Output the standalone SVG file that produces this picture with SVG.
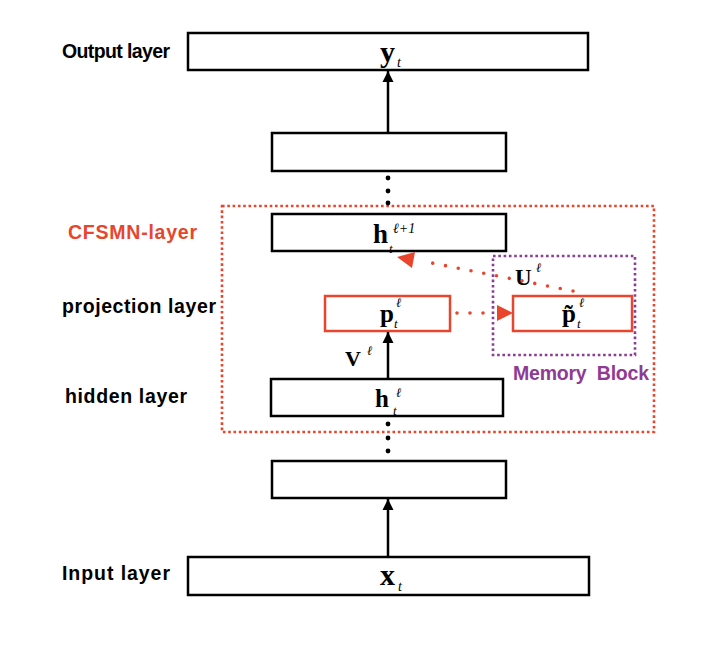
<svg xmlns="http://www.w3.org/2000/svg" width="726" height="663" viewBox="0 0 726 663">
<style>
.box{fill:#fff;stroke:#000;stroke-width:2.5}
.rbox{fill:#fff;stroke:#E8452C;stroke-width:2.5}
.lbl{font-family:"Liberation Sans",Arial,sans-serif;font-weight:bold;font-size:19.5px;fill:#000}
.m{font-family:"Liberation Serif","DejaVu Serif",serif;font-weight:bold;fill:#000}
.s{font-family:"Liberation Serif","DejaVu Serif",serif;font-style:italic;fill:#000}
.con{stroke:#000;stroke-width:2.5;fill:none}
.rdot{stroke:#E8452C;stroke-width:3.6;stroke-linecap:round;stroke-dasharray:0 13;fill:none}
</style>
<defs>
<marker id="ah" viewBox="0 0 10 10" refX="10" refY="5" markerWidth="4.4" markerHeight="5" orient="auto" markerUnits="strokeWidth"><path d="M0,0 L10,5 L0,10 Z" fill="#000"/></marker>
</defs>
<rect width="726" height="663" fill="#fff"/>

<g id="cfsmn-region">
<rect x="222" y="206" width="432" height="226" fill="none" stroke="#E8452C" stroke-width="2.6" stroke-dasharray="2.6 2.7"/>
<text x="68" y="239" class="lbl" style="fill:#E8452C" textLength="129">CFSMN-layer</text>
</g>

<g id="memory-block">
<rect x="493" y="256" width="142" height="99" fill="none" stroke="#8E3B95" stroke-width="2.6" stroke-dasharray="2.6 2.7"/>
<text x="513" y="380" class="lbl" style="fill:#8E3B95" textLength="136" xml:space="preserve">Memory  Block</text>
</g>

<g id="output-layer">
<rect class="box" x="188" y="33" width="400" height="37"/>
<text x="62" y="58" class="lbl" textLength="108">Output layer</text>
<text x="380" y="62" class="m" font-size="30">y</text>
<text x="397" y="67" class="s" font-size="14">t</text>
</g>

<g id="hidden-top">
<rect class="box" x="272" y="133" width="234" height="38"/>
</g>

<g id="h-next">
<rect class="box" x="272" y="214" width="234" height="37"/>
<text x="373" y="243" class="m" font-size="27">h</text>
<text x="393" y="233" class="s" font-size="14">ℓ+1</text>
<text x="389" y="253" class="s" font-size="13">t</text>
</g>

<g id="projection">
<rect class="rbox" x="325" y="296" width="125" height="35"/>
<text x="380" y="322" class="m" font-size="25">p</text>
<text x="396" y="307" class="s" font-size="13">ℓ</text>
<text x="394" y="328" class="s" font-size="13">t</text>
<text x="62" y="313" class="lbl" textLength="154">projection layer</text>
</g>

<g id="p-tilde">
<rect class="rbox" x="513" y="296" width="119" height="35"/>
<text x="562" y="322" class="m" font-size="25">p̃</text>
<text x="579" y="307" class="s" font-size="13">ℓ</text>
<text x="577" y="328" class="s" font-size="13">t</text>
</g>

<g id="hidden">
<rect class="box" x="271" y="379" width="232" height="37"/>
<text x="375" y="407" class="m" font-size="25">h</text>
<text x="396" y="397" class="s" font-size="13">ℓ</text>
<text x="393" y="415" class="s" font-size="13">t</text>
<text x="65" y="403" class="lbl" textLength="122">hidden layer</text>
</g>

<g id="hidden-bottom">
<rect class="box" x="272" y="461" width="234" height="37"/>
</g>

<g id="input-layer">
<rect class="box" x="188" y="557" width="401" height="38"/>
<text x="62" y="580" class="lbl" textLength="108">Input layer</text>
<text x="380" y="585" class="m" font-size="30">x</text>
<text x="398" y="591" class="s" font-size="14">t</text>
</g>

<g id="connectors">
<line class="con" x1="388" y1="133" x2="388" y2="71" marker-end="url(#ah)"/>
<line class="con" x1="388" y1="557" x2="388" y2="499" marker-end="url(#ah)"/>
<line class="con" x1="388" y1="379" x2="388" y2="332" marker-end="url(#ah)"/>
<g fill="#000">
<circle cx="388" cy="178" r="2.4"/><circle cx="388" cy="191" r="2.4"/><circle cx="388" cy="203" r="2.4"/>
<circle cx="388" cy="424" r="2.4"/><circle cx="388" cy="438" r="2.4"/><circle cx="388" cy="451" r="2.4"/>
</g>
<text x="345" y="366" class="m" font-size="22">V</text>
<text x="367" y="355" class="s" font-size="13">ℓ</text>
<text x="515" y="285" class="m" font-size="23">U</text>
<text x="536" y="272" class="s" font-size="13">ℓ</text>
<path class="rdot" d="M457,313 L485,313"/>
<path d="M497,305 L513,313 L497,321 Z" fill="#E8452C"/>
<path class="rdot" d="M573,291 L427,262"/>
<path d="M397,257 L415,252 L412,268 Z" fill="#E8452C"/>
</g>
</svg>
